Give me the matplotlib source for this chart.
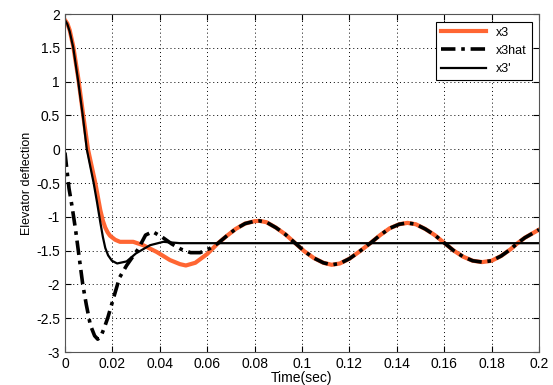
import matplotlib
matplotlib.use('Agg')
import matplotlib.pyplot as plt
from matplotlib.ticker import FuncFormatter, MultipleLocator

plt.rcParams['font.family'] = ['Liberation Sans', 'DejaVu Sans']
plt.rcParams['font.size'] = 10

# oscillation shared by x3 and x3hat after they merge
osc_t = [0.0646, 0.068, 0.072, 0.076, 0.080, 0.082, 0.085, 0.089, 0.093, 0.097,
         0.101, 0.105, 0.109, 0.1125, 0.116, 0.120, 0.124, 0.129, 0.133, 0.137,
         0.141, 0.1445, 0.148, 0.152, 0.156, 0.160, 0.164, 0.168, 0.172, 0.176,
         0.180, 0.184, 0.188, 0.1906, 0.194, 0.197, 0.200]
osc_v = [-1.39, -1.29, -1.18, -1.10, -1.065, -1.06, -1.08, -1.16, -1.26, -1.385,
         -1.51, -1.61, -1.68, -1.71, -1.69, -1.62, -1.52, -1.385, -1.27, -1.17,
         -1.11, -1.09, -1.11, -1.18, -1.27, -1.385, -1.50, -1.59, -1.65, -1.67,
         -1.65, -1.58, -1.48, -1.40, -1.31, -1.25, -1.19]

# x3 (orange)
x3_t = [0, 0.001, 0.002, 0.0035, 0.0056, 0.0077, 0.0097, 0.0128, 0.0149, 0.0160,
        0.0170, 0.0180, 0.019, 0.0212, 0.0232, 0.0288, 0.033, 0.0387, 0.0443, 0.0485,
        0.051, 0.055, 0.060] + osc_t
x3_v = [1.91, 1.86, 1.76, 1.52, 1.05, 0.5, 0.0, -0.5, -0.90, -1.06,
        -1.16, -1.23, -1.28, -1.34, -1.37, -1.37, -1.42, -1.52, -1.64, -1.70,
        -1.72, -1.68, -1.55] + osc_v

# x3hat (dash-dot)
x3hat_t = [0, 0.0008, 0.0017, 0.003, 0.0045, 0.006, 0.0075, 0.009, 0.0107, 0.0125,
           0.0138, 0.015, 0.0165, 0.018, 0.0205, 0.023, 0.026, 0.028, 0.031, 0.034,
           0.037, 0.041, 0.045, 0.049, 0.053, 0.057, 0.061] + osc_t
x3hat_v = [-0.05, -0.3, -0.58, -0.85, -1.2, -1.6, -2.0, -2.3, -2.6, -2.76,
           -2.81, -2.78, -2.65, -2.5, -2.2, -1.9, -1.72, -1.62, -1.47, -1.27,
           -1.22, -1.3, -1.40, -1.48, -1.53, -1.53, -1.47] + osc_v

# x3' (solid black)
x3p_t = [0, 0.001, 0.002, 0.0035, 0.0056, 0.0075, 0.0092, 0.0121, 0.0135, 0.0149,
         0.0160, 0.0170, 0.0182, 0.0198, 0.022, 0.026, 0.030, 0.0359, 0.0415, 0.0485, 0.2]
x3p_v = [1.91, 1.85, 1.74, 1.5, 1.0, 0.5, 0.0, -0.5, -0.78, -1.08,
         -1.30, -1.46, -1.57, -1.65, -1.69, -1.66, -1.54, -1.42, -1.37, -1.39, -1.39]

fig = plt.figure(figsize=(5.53, 3.85), dpi=100)
ax = fig.add_axes([0.1175, 0.0857, 0.8572, 0.8779])

ax.plot(x3_t, x3_v, color='#ff6633', linewidth=3.0, label='x3')
ax.plot(x3hat_t, x3hat_v, color='black', linewidth=2.6,
        linestyle=(0, (4, 1.6, 1, 1.6)), label='x3hat')
ax.plot(x3p_t, x3p_v, color='black', linewidth=1.6, label="x3'")

ax.set_xlim(0, 0.2)
ax.set_ylim(-3, 2)
ax.xaxis.set_major_locator(MultipleLocator(0.02))
ax.yaxis.set_major_locator(MultipleLocator(0.5))
fmt = FuncFormatter(lambda v, pos: '%g' % round(v, 4))
ax.xaxis.set_major_formatter(fmt)
ax.yaxis.set_major_formatter(fmt)
ax.tick_params(direction='in', top=True, right=True, length=4, labelsize=10)
ax.grid(True, color='black', linestyle=(0, (1, 3)), linewidth=0.7)
for s in ax.spines.values():
    s.set_color('#555555')

ax.set_xlabel('Time(sec)', labelpad=0)
ax.set_ylabel('Elevator deflection', fontsize=9, labelpad=2)

leg = ax.legend(loc='upper right', fontsize=9, handlelength=3.6,
                fancybox=False, framealpha=1, edgecolor='black',
                borderaxespad=0.6, labelspacing=0.5)
leg.get_frame().set_linewidth(0.8)

fig.savefig('out.png', dpi=100)
